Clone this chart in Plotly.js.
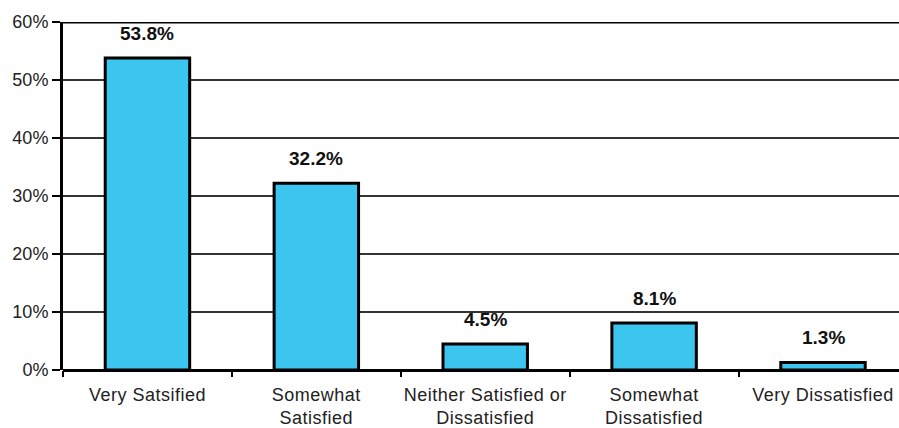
<!DOCTYPE html>
<html><head><meta charset="utf-8">
<script src="https://cdn.plot.ly/plotly-3.0.1.min.js"></script>
<style>html,body{margin:0;padding:0;overflow:hidden;background:#fff}#chart{width:899px;height:428px}
.xtick text{letter-spacing:0.5px}</style>
</head><body><div id="chart"></div>
<script>
const categories = ["Very Satsified", "Somewhat<br>Satisfied", "Neither Satisfied or<br>Dissatisfied", "Somewhat<br>Dissatisfied", "Very Dissatisfied"];
const values = [53.8, 32.2, 4.5, 8.1, 1.3];
const yTicks = [0, 10, 20, 30, 40, 50, 60];

const trace = {
  type: 'bar', x: categories, y: values, width: 0.5,
  marker: {color: '#3CC5EF', line: {color: '#000', width: 3}},
  hoverinfo: 'none'
};
const annotations = values.map((v, i) => ({
  x: categories[i], y: v, text: v.toFixed(1) + '%', showarrow: false,
  yanchor: 'bottom', yshift: 12,
  font: {family: 'Liberation Sans, Arial, sans-serif', size: 19, color: '#111', weight: 'bold'}
}));
const layout = {
  width: 899, height: 428,
  margin: {l: 63, r: 0, t: 22, b: 58},
  paper_bgcolor: '#fff', plot_bgcolor: '#fff',
  showlegend: false, bargap: 0.5,
  font: {family: 'Liberation Sans, Arial, sans-serif', size: 18, color: '#222'},
  xaxis: {type: 'category', range: [-0.5, 4.45], tickson: 'boundaries', ticks: 'outside', ticklen: 6, tickwidth: 2, tickcolor: '#000',
          ticklabelstandoff: 12,
          showline: false, showgrid: false, zeroline: false, tickfont: {size: 18, color: '#222'}, fixedrange: true},
  yaxis: {range: [0, 60], tickvals: yTicks, ticktext: yTicks.map(t => t + '%'), ticks: 'outside', ticklen: 8, tickwidth: 2, tickcolor: '#000',
          showline: true, linewidth: 3, linecolor: '#000', showgrid: true, gridcolor: '#333', gridwidth: 1.5,
          zeroline: true, zerolinecolor: '#000', zerolinewidth: 3, tickfont: {size: 18, color: '#222'}, fixedrange: true},
  shapes: [{type: 'line', xref: 'paper', yref: 'y', x0: 0, x1: 1, y0: 60, y1: 60, line: {color: '#000', width: 3}}],
  annotations: annotations
};
Plotly.newPlot('chart', [trace], layout, {displayModeBar: false, staticPlot: true});
</script></body></html>
